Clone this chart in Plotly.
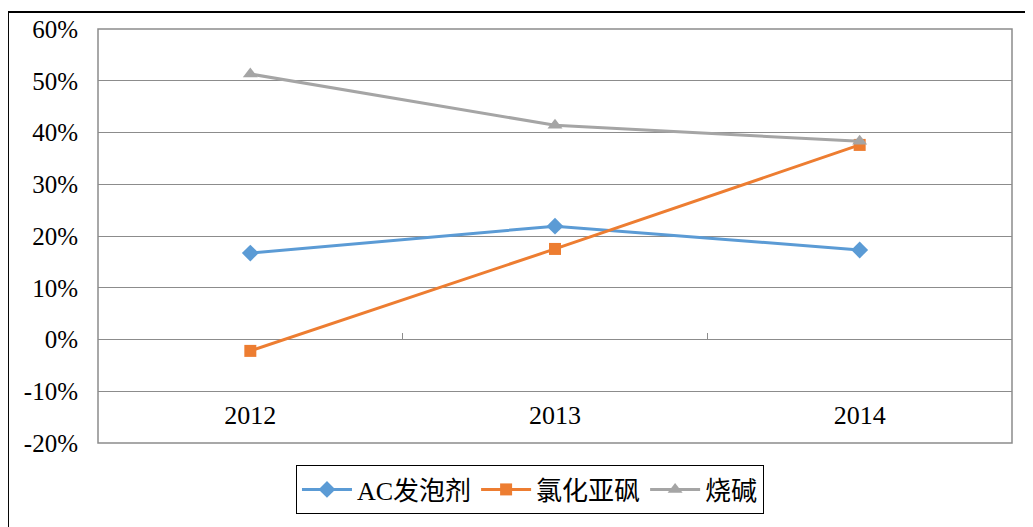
import plotly.graph_objects as go

categories = ["2012", "2013", "2014"]
ac_foaming = [16.7, 21.9, 17.3]
thionyl_chloride = [-2.2, 17.5, 37.6]
caustic_soda = [51.3, 41.4, 38.3]
y_ticks = [-20, -10, 0, 10, 20, 30, 40, 50, 60]
y_tick_labels = [f"{v}%" for v in y_ticks]

series = [
    ("AC发泡剂", ac_foaming, "#5B9BD5", "diamond", 13),
    ("氯化亚砜", thionyl_chloride, "#ED7D31", "square", 12),
    ("烧碱", caustic_soda, "#A5A5A5", "triangle-up", 13),
]

fig = go.Figure()
xs = list(range(len(categories)))
for name, vals, color, sym, size in series:
    fig.add_trace(go.Scatter(
        x=xs, y=vals, name=name, mode="lines+markers",
        line=dict(color=color, width=3),
        marker=dict(symbol=sym, size=size, color=color),
    ))

# invisible trace to drive the category-boundary tick axis
fig.add_trace(go.Scatter(x=[0.5, 1.5], y=[None, None], xaxis="x2",
                         showlegend=False, hoverinfo="skip"))

ytick_font = dict(family="Liberation Serif", size=25, color="black")
xtick_font = dict(family="Liberation Serif", size=26, color="black")

fig.update_layout(
    width=1033, height=527,
    margin=dict(l=90, r=29, t=21, b=92, autoexpand=False),
    paper_bgcolor="white", plot_bgcolor="white",
    font=ytick_font,
    xaxis=dict(
        range=[-0.5, 2.5], tickvals=xs, ticktext=categories,
        showgrid=False, zeroline=False, ticks="", showline=False,
        anchor="free", position=0.11, side="bottom",
        tickfont=xtick_font, ticklabelstandoff=0,
    ),
    xaxis2=dict(
        overlaying="x", anchor="free", position=0.25, side="bottom",
        range=[-0.5, 2.5], tickvals=[0.5, 1.5], showticklabels=False,
        ticks="inside", ticklen=7, tickcolor="#8c8c8c", tickwidth=1,
        showgrid=False, zeroline=False, showline=False,
    ),
    yaxis=dict(
        range=[-20, 60], tickvals=y_ticks, ticktext=y_tick_labels,
        showgrid=True, gridcolor="#8c8c8c", gridwidth=1,
        zeroline=False, ticks="", showline=False,
        tickfont=ytick_font, ticklabelstandoff=19,
    ),
    legend=dict(
        orientation="h", xref="container", yref="container",
        x=0.5053, xanchor="center", y=0.1328, yanchor="top",
        bordercolor="black", borderwidth=1, bgcolor="white",
        font=dict(family="Liberation Serif, Noto Sans CJK SC", size=26, color="black"),
        itemwidth=50,
    ),
    shapes=[
        dict(type="rect", xref="paper", yref="paper",
             x0=-0.0985, y0=-0.3, x1=1.06, y1=1.041,
             line=dict(color="black", width=2), fillcolor="rgba(0,0,0,0)", layer="below"),
        dict(type="rect", xref="paper", yref="paper",
             x0=0, y0=0, x1=1, y1=1,
             line=dict(color="#8c8c8c", width=1.5), fillcolor="rgba(0,0,0,0)", layer="below"),
    ],
)

fig.write_html("out.html")
